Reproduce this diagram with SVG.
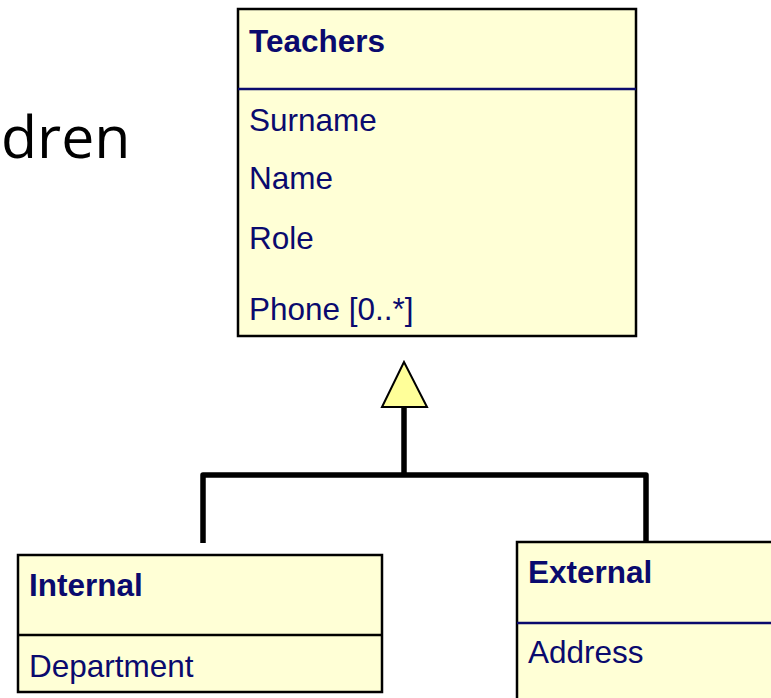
<svg xmlns="http://www.w3.org/2000/svg" width="771" height="698" viewBox="0 0 771 698">
<style>
.box{fill:#FFFFD6;stroke:#000;stroke-width:2.5}
.div{stroke:#0A0A6E;stroke-width:2.5}
.t{font-family:"Liberation Sans",Arial,sans-serif;font-size:31.5px;fill:#0A0A6E}
.b{font-weight:bold}
.conn{fill:none;stroke:#000;stroke-width:5.5;stroke-linejoin:round}
</style>
<rect width="771" height="698" fill="#fff"/>
<text x="1" y="158" font-family="'Open Sans',sans-serif" font-size="59" fill="#000">dren</text>
<g id="teachers">
<rect class="box" x="238" y="9" width="398" height="327"/>
<line class="div" x1="238" y1="89" x2="636" y2="89"/>
<text class="t b" x="249" y="52">Teachers</text>
<text class="t" x="249" y="131">Surname</text>
<text class="t" x="249" y="189">Name</text>
<text class="t" x="249" y="249">Role</text>
<text class="t" x="249" y="320">Phone [0..*]</text>
</g>
<g id="connectors">
<polyline class="conn" points="203,543 203,475 646,475 646,542"/>
<line class="conn" x1="404" y1="405" x2="404" y2="475"/>
<polygon points="404,362 382,407 427,407" fill="#FFFF99" stroke="#000" stroke-width="2"/>
</g>
<g id="internal">
<rect class="box" x="18" y="555" width="364" height="137"/>
<line stroke="#000" stroke-width="2.5" x1="18" y1="635" x2="382" y2="635"/>
<text class="t b" x="29" y="596">Internal</text>
<text class="t" x="29" y="677">Department</text>
</g>
<g id="external">
<rect class="box" x="517" y="542" width="270" height="170"/>
<line class="div" x1="517" y1="623" x2="771" y2="623"/>
<text class="t b" x="528" y="583">External</text>
<text class="t" x="528" y="663">Address</text>
</g>
</svg>
